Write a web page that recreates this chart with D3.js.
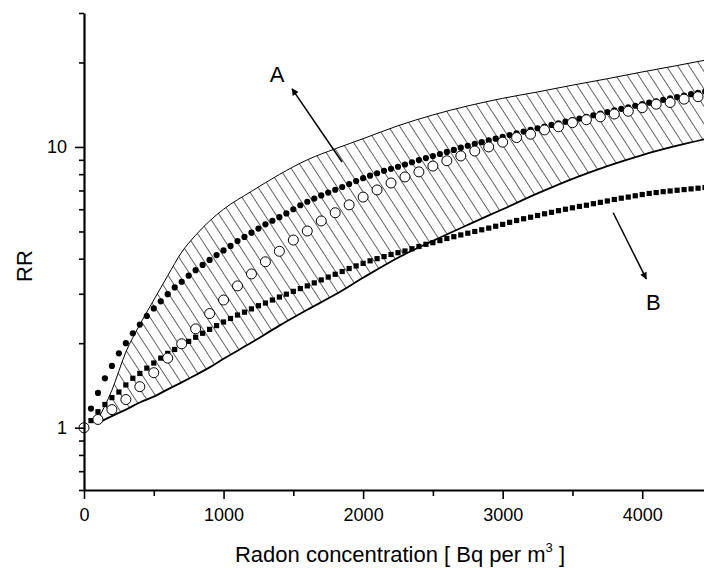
<!DOCTYPE html>
<html>
<head>
<meta charset="utf-8">
<script src="https://cdn.jsdelivr.net/npm/d3@7"></script>
<style>
body { margin: 0; background: #fff; }
svg { display: block; font-family: "Liberation Sans", Arial, sans-serif; }
</style>
</head>
<body>
<svg id="chart" width="704" height="568"></svg>
<script>
// radon concentration [Bq/m3] for the dense series (filled circles, squares)
const concFine = [0, 50, 100, 150, 200, 250, 300, 350, 400, 450,
	500, 550, 600, 650, 700, 750, 800, 850, 900, 950,
	1000, 1050, 1100, 1150, 1200, 1250, 1300, 1350, 1400, 1450,
	1500, 1550, 1600, 1650, 1700, 1750, 1800, 1850, 1900, 1950,
	2000, 2050, 2100, 2150, 2200, 2250, 2300, 2350, 2400, 2450,
	2500, 2550, 2600, 2650, 2700, 2750, 2800, 2850, 2900, 2950,
	3000, 3050, 3100, 3150, 3200, 3250, 3300, 3350, 3400, 3450,
	3500, 3550, 3600, 3650, 3700, 3750, 3800, 3850, 3900, 3950,
	4000, 4050, 4100, 4150, 4200, 4250, 4300, 4350, 4400, 4450, 4500];

const rrFilled = [1.00, 1.17, 1.33, 1.50, 1.66, 1.84, 2.00, 2.17, 2.33, 2.50,
	2.66, 2.82, 2.99, 3.16, 3.31, 3.48, 3.64, 3.80, 3.96, 4.12,
	4.28, 4.44, 4.62, 4.78, 4.95, 5.12, 5.30, 5.46, 5.62, 5.80,
	6.00, 6.20, 6.38, 6.55, 6.72, 6.88, 7.04, 7.20, 7.38, 7.56,
	7.74, 7.90, 8.06, 8.22, 8.36, 8.50, 8.66, 8.82, 8.98, 9.13,
	9.28, 9.44, 9.60, 9.76, 9.94, 10.10, 10.26, 10.40, 10.55, 10.70,
	10.86, 11.02, 11.18, 11.34, 11.50, 11.66, 11.82, 11.98, 12.14, 12.30,
	12.46, 12.62, 12.80, 12.97, 13.14, 13.32, 13.50, 13.67, 13.85, 14.02,
	14.20, 14.38, 14.55, 14.72, 14.90, 15.06, 15.24, 15.42, 15.60, 15.76, 15.92];

const rrSquare = [1.00, 1.06, 1.14, 1.21, 1.28, 1.34, 1.42, 1.50, 1.56, 1.63,
	1.70, 1.77, 1.84, 1.90, 1.97, 2.03, 2.10, 2.17, 2.24, 2.31,
	2.38, 2.45, 2.52, 2.58, 2.65, 2.72, 2.78, 2.85, 2.92, 2.99,
	3.06, 3.13, 3.20, 3.28, 3.36, 3.44, 3.52, 3.60, 3.69, 3.77,
	3.85, 3.93, 4.00, 4.07, 4.14, 4.20, 4.26, 4.34, 4.42, 4.50,
	4.56, 4.64, 4.72, 4.79, 4.86, 4.93, 5.00, 5.07, 5.14, 5.22,
	5.30, 5.39, 5.47, 5.55, 5.62, 5.70, 5.78, 5.85, 5.93, 6.00,
	6.07, 6.14, 6.20, 6.28, 6.35, 6.42, 6.50, 6.57, 6.63, 6.70,
	6.77, 6.83, 6.88, 6.93, 6.97, 7.01, 7.05, 7.09, 7.13, 7.17, 7.20];

// open circles
const concOpen = [0, 100, 200, 300, 400, 500, 600, 700, 800, 900,
	1000, 1100, 1200, 1300, 1400, 1500, 1600, 1700, 1800, 1900,
	2000, 2100, 2200, 2300, 2400, 2500, 2600, 2700, 2800, 2900,
	3000, 3100, 3200, 3300, 3400, 3500, 3600, 3700, 3800, 3900,
	4000, 4100, 4200, 4300, 4400, 4500];
const rrOpen = [1.00, 1.07, 1.16, 1.26, 1.40, 1.57, 1.77, 1.99, 2.25, 2.55,
	2.85, 3.20, 3.53, 3.90, 4.25, 4.66, 5.02, 5.45, 5.83, 6.22,
	6.63, 7.03, 7.44, 7.82, 8.15, 8.55, 8.93, 9.29, 9.67, 10.0,
	10.4, 10.8, 11.1, 11.5, 11.8, 12.2, 12.5, 12.8, 13.1, 13.4,
	13.8, 14.2, 14.4, 14.8, 15.1, 15.4];

// hatched uncertainty band
const bandConc = [100, 200, 300, 400, 500, 600, 700, 800, 900, 1000,
	1200, 1400, 1600, 1800, 2000, 2250, 2500, 2750, 3000, 3250,
	3500, 3750, 4000, 4250, 4500];
const bandLow = [1.04, 1.10, 1.16, 1.23, 1.29, 1.37, 1.45, 1.54, 1.64, 1.76,
	2.01, 2.31, 2.63, 2.98, 3.42, 4.03, 4.63, 5.28, 6.00, 6.83,
	7.70, 8.55, 9.36, 10.1, 10.8];
const bandHigh = [1.07, 1.36, 1.86, 2.33, 2.85, 3.48, 4.22, 4.85, 5.45, 6.00,
	6.95, 7.98, 9.00, 9.85, 10.7, 11.9, 13.0, 14.0, 14.9, 15.7,
	16.6, 17.5, 18.5, 19.5, 20.6];

const xMajor = [0, 1000, 2000, 3000, 4000];
const xTicks = [0, 500, 1000, 1500, 2000, 2500, 3000, 3500, 4000, 4500];
const yMajor = [1, 10];
const yTicks = [0.6, 0.7, 0.8, 0.9, 1, 2, 3, 4, 5, 6, 7, 8, 9, 10, 20, 30];

var svg = d3.select("#chart");

var xScale = d3.scaleLinear().domain([0, 4500]).range([84, 712]);
var yScale = d3.scaleLog().domain([0.6, 30]).range([490, 13]);

// hatch pattern
var defs = svg.append("defs");
defs.append("pattern")
	.attr("id", "hatch")
	.attr("patternUnits", "userSpaceOnUse")
	.attr("width", 9.5)
	.attr("height", 20)
	.attr("patternTransform", "rotate(-33)")
	.append("line")
	.attr("x1", 0).attr("y1", 0)
	.attr("x2", 0).attr("y2", 20)
	.attr("stroke", "#000")
	.attr("stroke-width", 1.2);

defs.append("marker")
	.attr("id", "arrow")
	.attr("viewBox", "0 0 10 10")
	.attr("refX", 9)
	.attr("refY", 5)
	.attr("markerWidth", 9)
	.attr("markerHeight", 7)
	.attr("markerUnits", "userSpaceOnUse")
	.attr("orient", "auto")
	.append("path")
	.attr("d", "M0,0 L10,5 L0,10 z")
	.attr("fill", "#000");

var band = bandConc.map(function (c, i) {
	return { x: c, lo: bandLow[i], hi: bandHigh[i] };
});

svg.append("path")
	.datum(band)
	.attr("fill", "url(#hatch)")
	.attr("d", d3.area()
		.x(function (d) { return xScale(d.x); })
		.y0(function (d) { return yScale(d.lo); })
		.y1(function (d) { return yScale(d.hi); })
		.curve(d3.curveMonotoneX));

svg.append("path")
	.datum(band)
	.attr("fill", "none")
	.attr("stroke", "#000")
	.attr("stroke-width", 1)
	.attr("d", d3.line()
		.x(function (d) { return xScale(d.x); })
		.y(function (d) { return yScale(d.hi); })
		.curve(d3.curveMonotoneX));

svg.append("path")
	.datum(band)
	.attr("fill", "none")
	.attr("stroke", "#000")
	.attr("stroke-width", 1.8)
	.attr("d", d3.line()
		.x(function (d) { return xScale(d.x); })
		.y(function (d) { return yScale(d.lo); })
		.curve(d3.curveMonotoneX));

// squares (B)
svg.append("g")
	.selectAll("rect")
	.data(concFine)
	.enter()
	.append("rect")
	.attr("x", function (d) { return xScale(d) - 2.6; })
	.attr("y", function (d, i) { return yScale(rrSquare[i]) - 2.6; })
	.attr("width", 5.2)
	.attr("height", 5.2)
	.attr("fill", "#000");

// filled circles
svg.append("g")
	.selectAll("circle")
	.data(concFine)
	.enter()
	.append("circle")
	.attr("cx", function (d) { return xScale(d); })
	.attr("cy", function (d, i) { return yScale(rrFilled[i]); })
	.attr("r", 3.1)
	.attr("fill", "#000");

// open circles
svg.append("g")
	.selectAll("circle")
	.data(concOpen)
	.enter()
	.append("circle")
	.attr("cx", function (d) { return xScale(d); })
	.attr("cy", function (d, i) { return yScale(rrOpen[i]); })
	.attr("r", 5)
	.attr("fill", "#fff")
	.attr("stroke", "#000")
	.attr("stroke-width", 1);

// axes
var xAxis = svg.append("g")
	.attr("transform", "translate(0,490)")
	.call(d3.axisBottom(xScale)
		.tickValues(xTicks)
		.tickSize(9)
		.tickSizeOuter(0)
		.tickPadding(9)
		.tickFormat(function (d) { return xMajor.indexOf(d) >= 0 ? d : ""; }));
xAxis.selectAll(".tick line")
	.attr("stroke-width", 1.6)
	.attr("y2", function (d) { return xMajor.indexOf(d) >= 0 ? 9 : 6; });

var yAxis = svg.append("g")
	.attr("transform", "translate(84,0)")
	.call(d3.axisLeft(yScale)
		.tickValues(yTicks)
		.tickSize(9)
		.tickSizeOuter(0)
		.tickPadding(8)
		.tickFormat(function (d) { return yMajor.indexOf(d) >= 0 ? d : ""; }));
yAxis.selectAll(".tick line")
	.attr("stroke-width", 1.6)
	.attr("x2", function (d) { return yMajor.indexOf(d) >= 0 ? -9 : -5; });

svg.selectAll(".domain").attr("stroke-width", 2.2);
svg.selectAll(".tick text")
	.attr("font-size", 18)
	.attr("font-family", "'Liberation Sans', Arial, sans-serif")
	.attr("fill", "#000");

// axis titles
svg.append("text")
	.attr("x", 400)
	.attr("y", 562)
	.attr("text-anchor", "middle")
	.attr("font-size", 22)
	.text("Radon concentration [ Bq per m")
	.append("tspan")
	.attr("dy", -10)
	.attr("font-size", 13)
	.text("3")
	.select(function () { return this.parentNode; })
	.append("tspan")
	.attr("dy", 10)
	.text(" ]");

svg.append("text")
	.attr("transform", "translate(32,266)rotate(-90)")
	.attr("text-anchor", "middle")
	.attr("font-size", 22)
	.text("RR");

// annotations A and B
svg.append("line")
	.attr("x1", xScale(1849)).attr("y1", yScale(8.84))
	.attr("x2", xScale(1491)).attr("y2", yScale(16.1))
	.attr("stroke", "#000")
	.attr("stroke-width", 1.5)
	.attr("marker-end", "url(#arrow)");
svg.append("text")
	.attr("x", xScale(1384))
	.attr("y", yScale(17.0))
	.attr("text-anchor", "middle")
	.attr("font-size", 22)
	.text("A");

svg.append("line")
	.attr("x1", xScale(3792)).attr("y1", yScale(5.83))
	.attr("x2", xScale(4029)).attr("y2", yScale(3.39))
	.attr("stroke", "#000")
	.attr("stroke-width", 1.5)
	.attr("marker-end", "url(#arrow)");
svg.append("text")
	.attr("x", xScale(4079))
	.attr("y", yScale(2.63))
	.attr("text-anchor", "middle")
	.attr("font-size", 22)
	.text("B");
</script>
</body>
</html>
